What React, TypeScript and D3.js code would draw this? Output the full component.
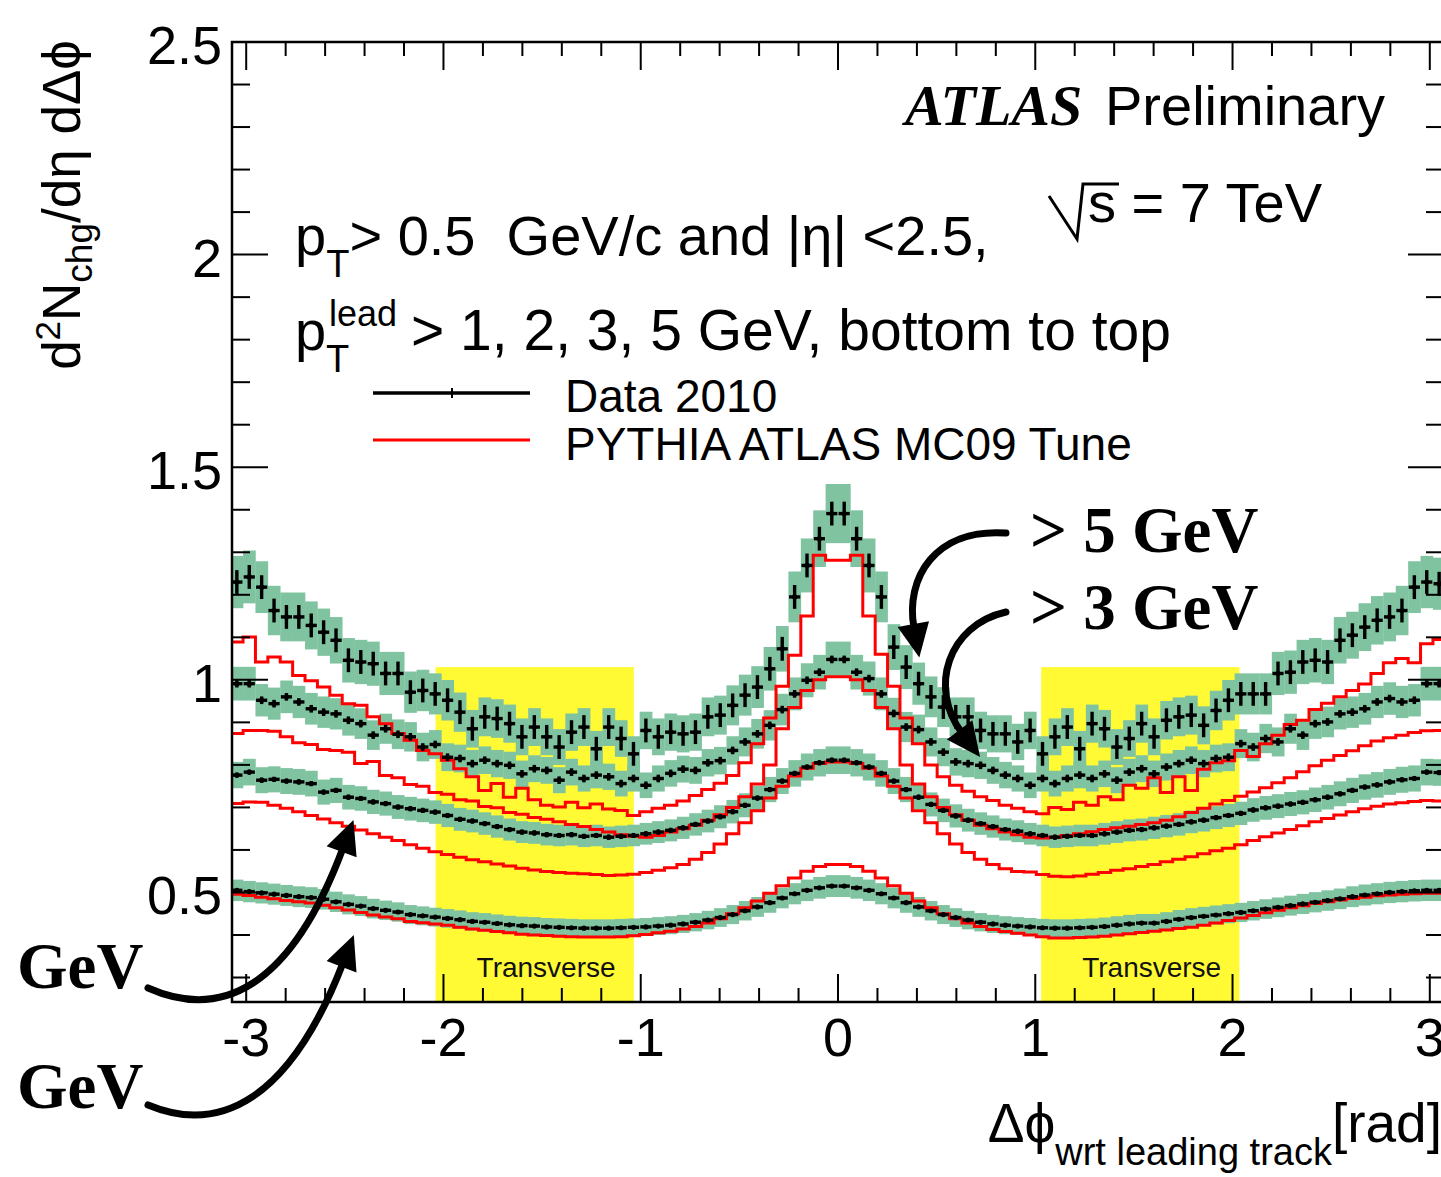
import { useEffect, useRef } from 'react';
import * as d3 from 'd3';

const WIDTH = 1441;
const HEIGHT = 1177;

// Plot frame in px (right edge sits just outside the cropped picture)
const FRAME = { left: 232, right: 1444, top: 42, bottom: 1002 };

const SANS = '"Liberation Sans", Arial, Helvetica, sans-serif';
const SERIF = '"Liberation Serif", "Times New Roman", serif';

const RED = '#ff0000';
const BAND = '#80c3a0';
const YELLOW = '#fffa33';

// 100 bins over [-pi, pi]
const N_BINS = 100;
const PHI_MIN = -Math.PI;
const BIN_WIDTH = (2 * Math.PI) / N_BINS;

const X_RANGE = [-3.072, 3.072];
const Y_RANGE = [0.2424, 2.5];

const X_TICK_LABELS = ['-3', '-2', '-1', '0', '1', '2', '3'];
const Y_TICK_LABELS = ['0.5', '1', '1.5', '2', '2.5'];

const TRANSVERSE = [
  [-2.04, -1.035],
  [1.03, 2.035],
];
const TRANSVERSE_TOP = 1.03;

// Data 2010, pT(lead) > 1, 2, 3, 5 GeV
const data1GeV = [
  0.503, 0.505, 0.502, 0.499, 0.496, 0.493, 0.49, 0.488, 0.484, 0.478,
  0.472, 0.468, 0.462, 0.458, 0.454, 0.448, 0.445, 0.442, 0.439, 0.436,
  0.432, 0.43, 0.427, 0.424, 0.422, 0.421, 0.419, 0.418, 0.417, 0.416,
  0.416, 0.416, 0.417, 0.418, 0.419, 0.421, 0.423, 0.426, 0.43, 0.435,
  0.441, 0.448, 0.457, 0.466, 0.476, 0.487, 0.497, 0.505, 0.511, 0.515,
  0.515, 0.511, 0.505, 0.497, 0.487, 0.476, 0.466, 0.457, 0.448, 0.441,
  0.435, 0.43, 0.426, 0.423, 0.421, 0.419, 0.417, 0.416, 0.416, 0.417,
  0.418, 0.42, 0.423, 0.426, 0.428, 0.428, 0.432, 0.437, 0.441, 0.444,
  0.447, 0.45, 0.453, 0.457, 0.461, 0.465, 0.469, 0.473, 0.477, 0.481,
  0.485, 0.49, 0.494, 0.497, 0.5, 0.502, 0.504, 0.505, 0.505, 0.504,
];
const data2GeV = [
  0.778, 0.776, 0.783, 0.764, 0.766, 0.762, 0.76, 0.756, 0.736, 0.74,
  0.724, 0.721, 0.713, 0.709, 0.701, 0.697, 0.693, 0.689, 0.681, 0.672,
  0.668, 0.662, 0.655, 0.648, 0.642, 0.64, 0.636, 0.634, 0.636, 0.632,
  0.634, 0.63, 0.632, 0.634, 0.638, 0.642, 0.646, 0.652, 0.66, 0.668,
  0.678, 0.69, 0.705, 0.722, 0.742, 0.762, 0.78, 0.795, 0.805, 0.811,
  0.811, 0.805, 0.795, 0.78, 0.762, 0.742, 0.724, 0.707, 0.693, 0.68,
  0.67, 0.662, 0.655, 0.648, 0.644, 0.638, 0.634, 0.63, 0.632, 0.634,
  0.634, 0.638, 0.642, 0.646, 0.648, 0.652, 0.656, 0.66, 0.666, 0.67,
  0.676, 0.681, 0.686, 0.694, 0.699, 0.703, 0.708, 0.712, 0.718, 0.724,
  0.732, 0.74, 0.748, 0.753, 0.76, 0.765, 0.768, 0.783, 0.782, 0.78,
];
const data3GeV = [
  0.99, 0.991, 0.991, 0.952, 0.944, 0.96, 0.948, 0.932, 0.924, 0.92,
  0.905, 0.897, 0.87, 0.885, 0.872, 0.866, 0.842, 0.848, 0.818, 0.815,
  0.803, 0.811, 0.803, 0.799, 0.779, 0.791, 0.787, 0.764, 0.783, 0.768,
  0.776, 0.772, 0.756, 0.768, 0.752, 0.768, 0.78, 0.79, 0.787, 0.805,
  0.81, 0.834, 0.854, 0.873, 0.893, 0.93, 0.967, 0.999, 1.018, 1.048,
  1.048, 1.018, 1.003, 0.967, 0.921, 0.889, 0.883, 0.854, 0.83, 0.807,
  0.803, 0.799, 0.787, 0.776, 0.768, 0.752, 0.768, 0.756, 0.768, 0.776,
  0.768, 0.779, 0.764, 0.783, 0.791, 0.779, 0.795, 0.803, 0.811, 0.803,
  0.815, 0.818, 0.85, 0.842, 0.862, 0.854, 0.885, 0.87, 0.897, 0.901,
  0.92, 0.924, 0.932, 0.948, 0.956, 0.948, 0.952, 0.991, 0.991, 0.99,
];
const data5GeV = [
  1.24, 1.23, 1.242, 1.218, 1.163, 1.148, 1.148, 1.128, 1.112, 1.093,
  1.046, 1.042, 1.038, 1.015, 1.015, 0.971, 0.975, 0.967, 0.952, 0.924,
  0.885, 0.913, 0.909, 0.897, 0.866, 0.889, 0.866, 0.842, 0.877, 0.889,
  0.838, 0.889, 0.862, 0.826, 0.881, 0.866, 0.877, 0.873, 0.877, 0.913,
  0.917, 0.94, 0.964, 0.983, 1.026, 1.073, 1.195, 1.269, 1.332, 1.391,
  1.391, 1.332, 1.269, 1.195, 1.077, 1.03, 0.991, 0.96, 0.936, 0.913,
  0.913, 0.881, 0.873, 0.873, 0.854, 0.881, 0.826, 0.866, 0.889, 0.838,
  0.897, 0.885, 0.842, 0.862, 0.897, 0.866, 0.905, 0.913, 0.917, 0.893,
  0.928, 0.952, 0.967, 0.967, 0.967, 1.015, 1.018, 1.042, 1.046, 1.042,
  1.093, 1.105, 1.124, 1.14, 1.148, 1.163, 1.218, 1.23, 1.226, 1.24,
];

// PYTHIA ATLAS MC09, same cuts
const mc1GeV = [
  0.497, 0.496, 0.493, 0.489, 0.485, 0.481, 0.478, 0.475, 0.47, 0.464,
  0.459, 0.453, 0.447, 0.442, 0.438, 0.432, 0.429, 0.426, 0.423, 0.418,
  0.414, 0.411, 0.408, 0.405, 0.402, 0.4, 0.399, 0.397, 0.396, 0.395,
  0.395, 0.395, 0.396, 0.398, 0.401, 0.405, 0.409, 0.414, 0.42, 0.428,
  0.438, 0.45, 0.464, 0.48, 0.498, 0.516, 0.534, 0.55, 0.561, 0.566,
  0.566, 0.561, 0.55, 0.534, 0.516, 0.498, 0.48, 0.464, 0.45, 0.438,
  0.428, 0.42, 0.413, 0.408, 0.404, 0.4, 0.396, 0.393, 0.393, 0.394,
  0.395, 0.397, 0.4, 0.403, 0.406, 0.409, 0.412, 0.415, 0.418, 0.423,
  0.428, 0.434, 0.44, 0.446, 0.452, 0.458, 0.464, 0.469, 0.474, 0.478,
  0.482, 0.486, 0.489, 0.492, 0.494, 0.496, 0.497, 0.498, 0.498, 0.497,
];
const mc2GeV = [
  0.71, 0.709, 0.713, 0.712, 0.705, 0.698, 0.69, 0.681, 0.673, 0.664,
  0.656, 0.647, 0.638, 0.63, 0.622, 0.612, 0.604, 0.596, 0.589, 0.583,
  0.577, 0.572, 0.567, 0.562, 0.557, 0.553, 0.549, 0.547, 0.545, 0.544,
  0.542, 0.54, 0.541, 0.543, 0.547, 0.552, 0.558, 0.566, 0.578, 0.594,
  0.614, 0.638, 0.664, 0.692, 0.722, 0.75, 0.774, 0.792, 0.803, 0.807,
  0.807, 0.803, 0.792, 0.774, 0.75, 0.722, 0.692, 0.664, 0.638, 0.614,
  0.594, 0.578, 0.566, 0.556, 0.549, 0.548, 0.542, 0.538, 0.537, 0.539,
  0.543, 0.547, 0.552, 0.556, 0.561, 0.566, 0.572, 0.578, 0.584, 0.591,
  0.598, 0.604, 0.612, 0.622, 0.631, 0.64, 0.648, 0.657, 0.666, 0.674,
  0.682, 0.69, 0.697, 0.703, 0.708, 0.711, 0.714, 0.716, 0.715, 0.712,
];
const mc3GeV = [
  0.875, 0.874, 0.881, 0.881, 0.879, 0.866, 0.852, 0.848, 0.836, 0.834,
  0.83, 0.803, 0.808, 0.775, 0.77, 0.754, 0.75, 0.735, 0.731, 0.718,
  0.715, 0.702, 0.699, 0.688, 0.684, 0.676, 0.672, 0.666, 0.66, 0.655,
  0.648, 0.642, 0.636, 0.632, 0.63, 0.634, 0.642, 0.65, 0.658, 0.67,
  0.683, 0.7, 0.725, 0.755, 0.8, 0.885, 0.935, 0.975, 1.0, 1.007,
  1.007, 1.0, 0.975, 0.935, 0.885, 0.8, 0.755, 0.725, 0.7, 0.683,
  0.67, 0.658, 0.65, 0.642, 0.636, 0.63, 0.628, 0.63, 0.634, 0.638,
  0.643, 0.648, 0.652, 0.656, 0.66, 0.664, 0.67, 0.678, 0.688, 0.698,
  0.708, 0.716, 0.726, 0.736, 0.746, 0.758, 0.77, 0.784, 0.798, 0.811,
  0.822, 0.833, 0.845, 0.856, 0.864, 0.87, 0.876, 0.88, 0.881, 0.878,
];
const mc5GeV = [
  1.092, 1.089, 1.101, 1.042, 1.054, 1.042, 1.01, 0.998, 0.983, 0.964,
  0.944, 0.94, 0.913, 0.897, 0.874, 0.858, 0.834, 0.826, 0.811, 0.791,
  0.772, 0.74, 0.756, 0.724, 0.745, 0.718, 0.705, 0.701, 0.712, 0.699,
  0.708, 0.696, 0.693, 0.681, 0.69, 0.698, 0.705, 0.715, 0.728, 0.742,
  0.757, 0.775, 0.805, 0.85, 0.91, 0.985, 1.058, 1.15, 1.293, 1.281,
  1.281, 1.293, 1.15, 1.06, 0.985, 0.91, 0.85, 0.8, 0.772, 0.752,
  0.738, 0.725, 0.716, 0.705, 0.698, 0.69, 0.685, 0.7, 0.695, 0.712,
  0.705, 0.725, 0.718, 0.752, 0.745, 0.77, 0.735, 0.772, 0.74, 0.79,
  0.805, 0.81, 0.834, 0.82, 0.85, 0.87, 0.895, 0.905, 0.93, 0.945,
  0.96, 0.975, 0.99, 1.015, 1.04, 1.05, 1.04, 1.085, 1.095, 1.092,
];

// Uncertainties per threshold (absolute stat, relative syst)
const STAT_ERR = [0.004, 0.006, 0.009, 0.028];
const SYS_FRAC = [0.05, 0.04, 0.04, 0.05];

const DATA_SERIES = [data1GeV, data2GeV, data3GeV, data5GeV];
const MC_SERIES = [mc1GeV, mc2GeV, mc3GeV, mc5GeV];

export default function App() {
  const svgRef = useRef(null);

  useEffect(() => {
    const svg = d3.select(svgRef.current);
    svg.selectAll('*').remove();
    svg.attr('width', WIDTH).attr('height', HEIGHT);

    const x = d3.scaleLinear().domain(X_RANGE).range([FRAME.left, FRAME.right]);
    const y = d3.scaleLinear().domain(Y_RANGE).range([FRAME.bottom, FRAME.top]);
    const edge = (k) => PHI_MIN + k * BIN_WIDTH;

    svg.append('rect').attr('width', WIDTH).attr('height', HEIGHT).attr('fill', '#fff');

    svg
      .append('defs')
      .append('clipPath')
      .attr('id', 'plot-clip')
      .append('rect')
      .attr('x', FRAME.left)
      .attr('y', FRAME.top)
      .attr('width', FRAME.right - FRAME.left)
      .attr('height', FRAME.bottom - FRAME.top);

    const plot = svg.append('g').attr('clip-path', 'url(#plot-clip)');

    // Transverse regions ---------------------------------------------------
    plot
      .selectAll('rect.transverse')
      .data(TRANSVERSE)
      .join('rect')
      .attr('x', (d) => x(d[0]))
      .attr('width', (d) => x(d[1]) - x(d[0]))
      .attr('y', y(TRANSVERSE_TOP))
      .attr('height', y(Y_RANGE[0]) - y(TRANSVERSE_TOP))
      .attr('fill', YELLOW);

    TRANSVERSE.forEach((d) => {
      plot
        .append('text')
        .attr('x', x(d[0]) + 41)
        .attr('y', 977)
        .style('font-family', SANS)
        .style('font-size', '28px')
        .attr('fill', '#111')
        .text('Transverse');
    });

    // Systematic bands -----------------------------------------------------
    DATA_SERIES.forEach((values, i) => {
      plot
        .append('g')
        .selectAll('rect')
        .data(values)
        .join('rect')
        .attr('x', (_, k) => x(edge(k)))
        .attr('width', x(edge(1)) - x(edge(0)) + 0.3)
        .attr('y', (v) => y(v * (1 + SYS_FRAC[i])))
        .attr('height', (v) => y(v * (1 - SYS_FRAC[i])) - y(v * (1 + SYS_FRAC[i])))
        .attr('fill', BAND);
    });

    // MC histograms --------------------------------------------------------
    const step = d3
      .line()
      .x((d) => x(d[0]))
      .y((d) => y(d[1]));
    MC_SERIES.forEach((values) => {
      const pts = values.flatMap((v, k) => [
        [edge(k), v],
        [edge(k + 1), v],
      ]);
      plot
        .append('path')
        .attr('d', step(pts))
        .attr('fill', 'none')
        .attr('stroke', RED)
        .attr('stroke-width', 3);
    });

    // Data points ----------------------------------------------------------
    DATA_SERIES.forEach((values, i) => {
      const g = plot.append('g').attr('stroke', '#000').attr('stroke-width', 3.4);
      values.forEach((v, k) => {
        const x0 = x(edge(k));
        const x1 = x(edge(k + 1));
        const xc = (x0 + x1) / 2;
        g.append('line')
          .attr('x1', x0 + 0.6)
          .attr('x2', x1 - 0.6)
          .attr('y1', y(v))
          .attr('y2', y(v));
        g.append('line')
          .attr('x1', xc)
          .attr('x2', xc)
          .attr('y1', y(v - STAT_ERR[i]))
          .attr('y2', y(v + STAT_ERR[i]));
        g.append('circle')
          .attr('cx', xc)
          .attr('cy', y(v))
          .attr('r', 2.6)
          .attr('fill', '#000')
          .attr('stroke', 'none');
      });
    });

    // Axes -----------------------------------------------------------------
    const axes = svg.append('g').attr('stroke', '#000');
    const xTicks = d3.range(-30, 31, 2);
    xTicks.forEach((t) => {
      const major = t % 10 === 0;
      const len = major ? 28 : 14;
      const px = x(t / 10);
      axes.append('line').attr('x1', px).attr('x2', px).attr('y1', FRAME.bottom).attr('y2', FRAME.bottom - len).attr('stroke-width', 2);
      axes.append('line').attr('x1', px).attr('x2', px).attr('y1', FRAME.top).attr('y2', FRAME.top + len).attr('stroke-width', 2);
    });
    const yTicks = d3.range(3, 26);
    yTicks.forEach((t) => {
      const major = t % 5 === 0;
      const len = major ? 36 : 18;
      const py = y(t / 10);
      axes.append('line').attr('x1', FRAME.left).attr('x2', FRAME.left + len).attr('y1', py).attr('y2', py).attr('stroke-width', 2);
      axes.append('line').attr('x1', FRAME.right).attr('x2', FRAME.right - len).attr('y1', py).attr('y2', py).attr('stroke-width', 2);
    });
    axes
      .append('rect')
      .attr('x', FRAME.left)
      .attr('y', FRAME.top)
      .attr('width', FRAME.right - FRAME.left)
      .attr('height', FRAME.bottom - FRAME.top)
      .attr('fill', 'none')
      .attr('stroke-width', 2.5);

    const labels = svg.append('g').style('font-family', SANS).attr('fill', '#000');
    X_TICK_LABELS.forEach((s) => {
      labels
        .append('text')
        .attr('x', x(+s))
        .attr('y', 1056)
        .attr('text-anchor', 'middle')
        .style('font-size', '54px')
        .text(s);
    });
    Y_TICK_LABELS.forEach((s) => {
      labels
        .append('text')
        .attr('x', 222)
        .attr('y', y(+s) + 22)
        .attr('text-anchor', 'end')
        .style('font-size', '54px')
        .text(s);
    });

    // Axis titles ----------------------------------------------------------
    const yTitle = labels
      .append('text')
      .attr('transform', 'translate(80,40) rotate(-90)')
      .attr('text-anchor', 'end')
      .style('font-size', '53px');
    yTitle.append('tspan').text('d');
    yTitle.append('tspan').attr('dy', -20).style('font-size', '35px').text('2');
    yTitle.append('tspan').attr('dy', 20).text('N');
    yTitle.append('tspan').attr('dy', 12).style('font-size', '37px').text('chg');
    yTitle.append('tspan').attr('dy', -12).text('/dη dΔϕ');

    const xTitle = labels
      .append('text')
      .attr('x', 1442)
      .attr('y', 1142)
      .attr('text-anchor', 'end')
      .style('font-size', '55px');
    xTitle.append('tspan').text('Δϕ');
    xTitle.append('tspan').attr('dy', 23).style('font-size', '38px').text('wrt leading track');
    xTitle.append('tspan').attr('dy', -23).text('[rad]');

    // Labels inside the frame ----------------------------------------------
    labels
      .append('text')
      .attr('x', 905)
      .attr('y', 125)
      .style('font-family', SERIF)
      .style('font-weight', 'bold')
      .style('font-style', 'italic')
      .style('font-size', '58px')
      .text('ATLAS');
    labels.append('text').attr('x', 1105).attr('y', 125).style('font-size', '56px').text('Preliminary');

    labels
      .append('path')
      .attr('d', 'M1049,196 L1077,239 L1083,184 L1119,184')
      .attr('fill', 'none')
      .attr('stroke', '#000')
      .attr('stroke-width', 3);
    labels.append('text').attr('x', 1088).attr('y', 222).style('font-size', '56px').text('s = 7 TeV');

    const line1 = labels
      .append('text')
      .attr('x', 295)
      .attr('y', 255)
      .style('font-size', '56px')
      .style('white-space', 'pre');
    line1.append('tspan').text('p');
    line1.append('tspan').attr('dy', 22).style('font-size', '38px').text('T');
    line1.append('tspan').attr('dy', -22).text('> 0.5  GeV/c and |η| <2.5,');

    labels.append('text').attr('x', 295).attr('y', 350).style('font-size', '56px').text('p');
    labels.append('text').attr('x', 326).attr('y', 372).style('font-size', '38px').text('T');
    labels.append('text').attr('x', 329).attr('y', 326).style('font-size', '36px').text('lead');
    labels
      .append('text')
      .attr('x', 411)
      .attr('y', 350)
      .style('font-size', '57px')
      .text('> 1, 2, 3, 5 GeV, bottom to top');

    // Legend ---------------------------------------------------------------
    const legend = svg.append('g');
    legend.append('line').attr('x1', 373).attr('x2', 530).attr('y1', 393).attr('y2', 393).attr('stroke', '#000').attr('stroke-width', 3.4);
    legend.append('line').attr('x1', 452).attr('x2', 452).attr('y1', 388).attr('y2', 398).attr('stroke', '#000').attr('stroke-width', 2);
    legend.append('line').attr('x1', 373).attr('x2', 530).attr('y1', 440).attr('y2', 440).attr('stroke', RED).attr('stroke-width', 3);
    legend.append('text').attr('x', 565).attr('y', 412).style('font-family', SANS).style('font-size', '46px').text('Data 2010');
    legend.append('text').attr('x', 565).attr('y', 460).style('font-family', SANS).style('font-size', '46px').text('PYTHIA ATLAS MC09 Tune');

    // Hand-drawn annotations -----------------------------------------------
    const notes = svg.append('g');
    const noteText = (tx, ty, s) =>
      notes
        .append('text')
        .attr('x', tx)
        .attr('y', ty)
        .style('font-family', SERIF)
        .style('font-weight', 'bold')
        .style('font-size', '65px')
        .attr('fill', '#000')
        .text(s);
    noteText(1030, 552, '> 5 GeV');
    noteText(1030, 629, '> 3 GeV');
    noteText(17, 988, 'GeV');
    noteText(17, 1108, 'GeV');

    const arrow = (p0, c1, c2, p3) => {
      notes
        .append('path')
        .attr('d', `M${p0} C${c1} ${c2} ${p3}`)
        .attr('fill', 'none')
        .attr('stroke', '#000')
        .attr('stroke-width', 7)
        .attr('stroke-linecap', 'round');
      const dx = p3[0] - c2[0];
      const dy = p3[1] - c2[1];
      const n = Math.hypot(dx, dy);
      const ux = dx / n;
      const uy = dy / n;
      const tip = [p3[0] + ux * 30, p3[1] + uy * 30];
      const back = [p3[0] - ux * 4, p3[1] - uy * 4];
      const a = [back[0] - uy * 16, back[1] + ux * 16];
      const b = [back[0] + uy * 16, back[1] - ux * 16];
      notes.append('path').attr('d', `M${tip} L${a} L${b} Z`).attr('fill', '#000');
    };
    arrow([1006, 533], [935, 528], [905, 578], [914, 628]);
    arrow([1006, 612], [948, 625], [928, 688], [962, 733]);
    arrow([148, 988], [220, 1020], [290, 990], [343, 848]);
    arrow([148, 1105], [220, 1135], [290, 1100], [343, 963]);
  }, []);

  return (
    <svg
      ref={svgRef}
      style={{ position: 'absolute', left: 0, top: 0, display: 'block' }}
    />
  );
}
